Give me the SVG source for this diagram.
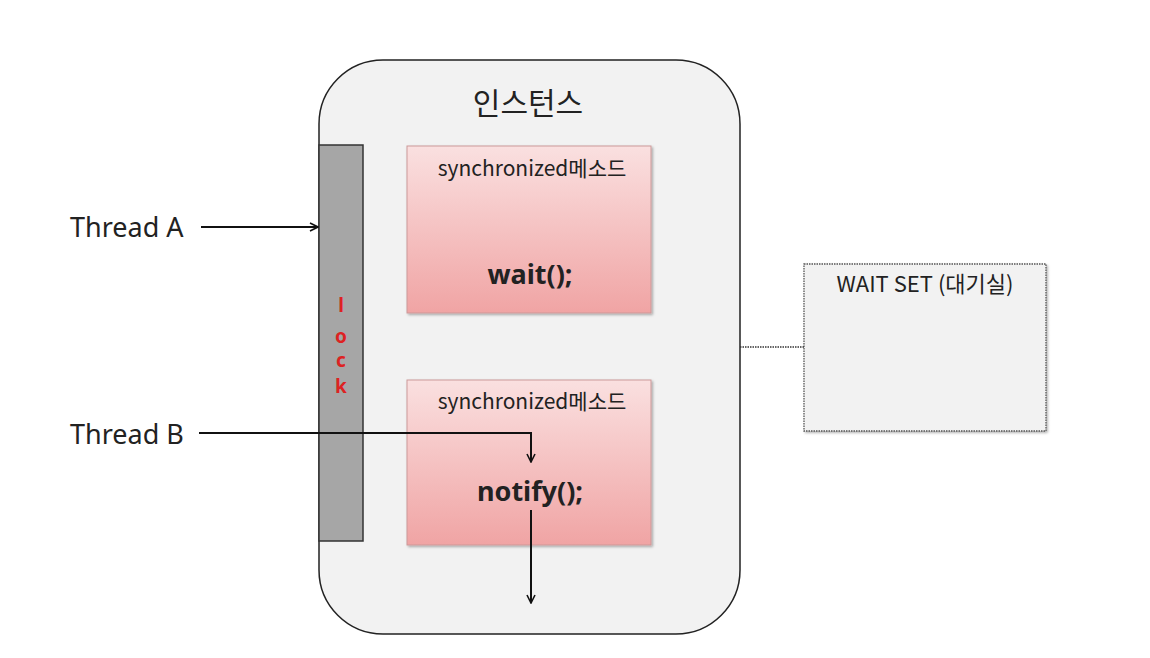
<svg xmlns="http://www.w3.org/2000/svg" width="1150" height="658" viewBox="0 0 1150 658">
<style>
.t{font-family:"Noto Sans","Noto Sans CJK KR",sans-serif;fill:#222}
.k{font-family:"Noto Sans CJK KR","Noto Sans",sans-serif;fill:#222}
.meth{stroke:#c99;stroke-width:1;fill:url(#pg)}
.ln{stroke:#111;stroke-width:2;fill:none}
.lk{font-family:"Noto Sans",sans-serif;font-weight:bold;font-size:19px;fill:#d22;text-anchor:middle}
</style>
<defs>
<linearGradient id="pg" x1="0" y1="0" x2="0" y2="1">
<stop offset="0" stop-color="#fae0e0"/>
<stop offset="1" stop-color="#f0a4a4"/>
</linearGradient>
<marker id="ar" viewBox="0 0 10 10" refX="9" refY="5" markerWidth="10" markerHeight="10" markerUnits="userSpaceOnUse" orient="auto">
<path d="M1,1 L9,5 L1,9" fill="none" stroke="#111" stroke-width="1.6"/>
</marker>
<filter id="sh" x="-5%" y="-5%" width="115%" height="115%">
<feDropShadow dx="1.5" dy="1.5" stdDeviation="1.2" flood-color="#000" flood-opacity="0.3"/>
</filter>
</defs>
<rect width="1150" height="658" fill="#fff"/>
<g id="instance">
<rect x="319" y="60" width="421" height="574" rx="64" fill="#f2f2f2" stroke="#222" stroke-width="1.5"/>
<text class="k" x="528" y="114" font-size="30" text-anchor="middle">인스턴스</text>
</g>
<g id="lock">
<rect x="319" y="145" width="44" height="396" fill="#a6a6a6" stroke="#333" stroke-width="1.5"/>
<text class="lk" x="341" y="312">l</text>
<text class="lk" x="341" y="343">o</text>
<text class="lk" x="341" y="367">c</text>
<text class="lk" x="341" y="393">k</text>
</g>
<g id="method-wait">
<rect class="meth" x="407" y="146" width="244" height="167" filter="url(#sh)"/>
<text class="k" x="532" y="176" font-size="21" text-anchor="middle">synchronized메소드</text>
<text class="t" x="530" y="284" font-size="27" font-weight="bold" text-anchor="middle">wait();</text>
</g>
<g id="method-notify">
<rect class="meth" x="407" y="380" width="244" height="165" filter="url(#sh)"/>
<text class="k" x="532" y="409" font-size="21" text-anchor="middle">synchronized메소드</text>
<text class="t" x="530" y="501" font-size="27" font-weight="bold" text-anchor="middle">notify();</text>
</g>
<g id="waitset">
<rect x="804" y="264" width="242" height="167" fill="#f2f2f2" stroke="#555" stroke-width="1.3" stroke-dasharray="1.5 1" filter="url(#sh)"/>
<text class="k" x="925" y="292" font-size="22" text-anchor="middle">WAIT SET (대기실)</text>
</g>
<g id="threadA">
<text class="t" x="70" y="237" font-size="27">Thread A</text>
</g>
<g id="threadB">
<text class="t" x="70" y="444" font-size="27">Thread B</text>
</g>
<g id="connectors">
<line class="ln" x1="201" y1="227" x2="318" y2="227" marker-end="url(#ar)"/>
<polyline class="ln" points="199,433 531,433 531,462" marker-end="url(#ar)"/>
<line class="ln" x1="531" y1="510" x2="531" y2="603" marker-end="url(#ar)"/>
<line x1="740" y1="347" x2="804" y2="347" stroke="#333" stroke-width="1.5" stroke-dasharray="1.5 1"/>
</g>
</svg>
